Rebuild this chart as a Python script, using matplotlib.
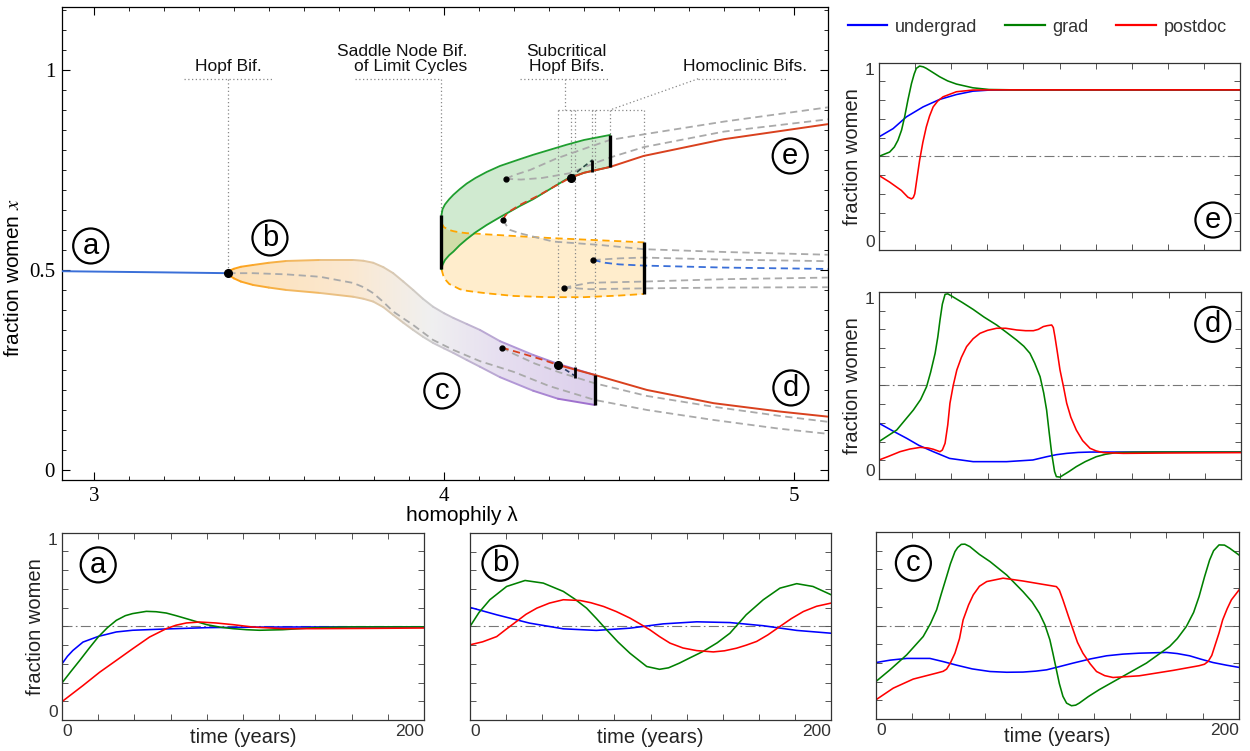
import numpy as np
import matplotlib
matplotlib.use('Agg')
import matplotlib.pyplot as plt
from matplotlib.collections import LineCollection
from matplotlib.colors import LinearSegmentedColormap
from matplotlib.patches import Polygon
from matplotlib.lines import Line2D
from matplotlib.ticker import MultipleLocator, FixedLocator

plt.rcParams['font.family'] = ['Liberation Sans', 'DejaVu Sans']
plt.rcParams['mathtext.fontset'] = 'stix'

# ---------------- bifurcation diagram: homophily lambda vs fraction women x ----------------
# stable symmetric fixed point up to the Hopf bifurcation
fp_lam = [2.90, 3.0, 3.2, 3.384]
fp_x = [0.497, 0.496, 0.494, 0.492]

# stable limit cycle born at the Hopf point (max / min of x)
cyc_lam = [3.384, 3.388, 3.40, 3.42, 3.455, 3.50, 3.55, 3.646, 3.741, 3.77, 3.798, 3.827, 3.855, 3.884, 3.912, 3.94, 3.969, 4.0, 4.027, 4.065, 4.103, 4.16, 4.255, 4.326, 4.431]
cyc_hi = [0.492, 0.4985, 0.503, 0.508, 0.5125, 0.518, 0.5225, 0.525, 0.525, 0.523, 0.518, 0.507, 0.492, 0.471, 0.45, 0.428, 0.408, 0.392, 0.38, 0.365, 0.35, 0.322, 0.2875, 0.265, 0.2375]
cyc_lo = [0.492, 0.486, 0.479, 0.471, 0.4625, 0.456, 0.45, 0.4425, 0.433, 0.428, 0.421, 0.407, 0.3875, 0.368, 0.35, 0.333, 0.3175, 0.304, 0.2925, 0.275, 0.258, 0.232, 0.198, 0.178, 0.1625]

# unstable focus inside the cycle
uf_lam = [3.384, 3.455, 3.55, 3.646, 3.741, 3.77, 3.798, 3.827, 3.855, 3.912, 3.969, 4.027, 4.103, 4.2, 4.3, 4.431, 4.58, 4.77, 4.96, 5.1]
uf_x = [0.492, 0.492, 0.489, 0.483, 0.4675, 0.457, 0.442, 0.42, 0.396, 0.3625, 0.325, 0.3, 0.272, 0.245, 0.21, 0.175, 0.15, 0.125, 0.103, 0.09]

# lower branch: saddle, unstable node, stable node, small unstable cycle
ls_lam = [4.165, 4.2, 4.26, 4.33, 4.431, 4.58, 4.77, 4.96, 5.1]
ls_x = [0.306, 0.29, 0.266, 0.244, 0.2167, 0.185, 0.158, 0.135, 0.12]
lu_lam = [4.165, 4.22, 4.28, 4.326]
lu_x = [0.306, 0.292, 0.276, 0.2625]
lst_lam = [4.326, 4.431, 4.58, 4.77, 4.96, 5.1]
lst_x = [0.2625, 0.2375, 0.2, 0.167, 0.146, 0.133]
lcyc_lam = [4.326, 4.35, 4.373]
lcyc_x = [0.2625, 0.249, 0.236]

# upper branch: stable cycle (green) and unstable cycle (orange)
sc_lam = [3.993, 3.996, 4.003, 4.015, 4.027, 4.045, 4.065, 4.09, 4.122, 4.16, 4.217, 4.255, 4.312, 4.35, 4.40, 4.474]
sc_hi = [0.6375, 0.652, 0.664, 0.677, 0.688, 0.702, 0.716, 0.73, 0.745, 0.76, 0.777, 0.788, 0.803, 0.813, 0.825, 0.8375]
sc_lo = [0.502, 0.513, 0.525, 0.537, 0.546, 0.562, 0.577, 0.594, 0.6125, 0.632, 0.66, 0.677, 0.707, 0.727, 0.743, 0.7575]
uc_lam = [3.993, 4.0, 4.015, 4.027, 4.045, 4.065, 4.09, 4.122, 4.2, 4.3, 4.4, 4.5, 4.571]
uc_hi = [0.617, 0.607, 0.6, 0.597, 0.594, 0.592, 0.591, 0.589, 0.585, 0.58, 0.576, 0.572, 0.569]
uc_lo = [0.502, 0.48, 0.465, 0.46, 0.452, 0.448, 0.445, 0.4417, 0.435, 0.432, 0.432, 0.436, 0.44]

# upper fixed points
uu_lam = [4.169, 4.175, 4.19, 4.22, 4.27, 4.32, 4.362]
uu_x = [0.625, 0.636, 0.648, 0.664, 0.686, 0.711, 0.731]
ust_lam = [4.362, 4.40, 4.474, 4.57, 4.8, 5.1]
ust_x = [0.731, 0.743, 0.7575, 0.785, 0.827, 0.865]
us_lam = [4.169, 4.18, 4.189, 4.217, 4.312, 4.446, 4.57, 4.8, 5.1]
us_x = [0.625, 0.609, 0.60, 0.5917, 0.571, 0.5625, 0.552, 0.545, 0.538]
ucyc_lam = [4.362, 4.39, 4.424]
ucyc_x = [0.731, 0.752, 0.775]

# remaining unstable branches (grey dashed) and the unstable symmetric point (blue dashed)
gA_lam = [4.177, 4.2, 4.246, 4.322, 4.417, 4.474, 4.57, 4.8, 5.1]
gA_x = [0.728, 0.737, 0.75, 0.779, 0.808, 0.825, 0.839, 0.871, 0.907]
gB_lam = [4.177, 4.22, 4.28, 4.36, 4.424, 4.474, 4.57, 4.8, 5.1]
gB_x = [0.728, 0.726, 0.73, 0.742, 0.765, 0.781, 0.807, 0.846, 0.877]
gC_lam = [4.427, 4.5, 4.57, 4.8, 5.1]
gC_x = [0.525, 0.529, 0.531, 0.526, 0.522]
sym_lam = [4.427, 4.46, 4.5, 4.57, 4.8, 5.1]
sym_x = [0.525, 0.518, 0.514, 0.511, 0.506, 0.5025]
gD_lam = [4.343, 4.417, 4.57, 4.8, 5.1]
gD_x = [0.456, 0.468, 0.471, 0.477, 0.481]
gE_lam = [4.343, 4.417, 4.57, 4.8, 5.1]
gE_x = [0.456, 0.452, 0.454, 0.456, 0.457]

hopf_pt = (3.384, 0.492)
fold_pts = [(4.165, 0.306), (4.169, 0.625), (4.177, 0.728), (4.427, 0.525), (4.343, 0.456)]
subhopf_pts = [(4.326, 0.2625), (4.362, 0.731)]
# (lambda, x_min, x_max) of the bifurcation markers
big_bars = [(3.993, 0.502, 0.6375), (4.431, 0.1625, 0.2375), (4.474, 0.7575, 0.8375), (4.571, 0.44, 0.569)]
small_bars = [(4.373, 0.23, 0.2575), (4.424, 0.746, 0.775)]

# ---------------- time series (years vs fraction women) ----------------
a_ug_t = [0, 3, 6, 11.6, 20, 30, 39, 57.6, 80, 110, 150, 200]
a_ug = [0.30, 0.34, 0.371, 0.416, 0.446, 0.47, 0.479, 0.486, 0.493, 0.496, 0.497, 0.497]
a_gr_t = [0, 5, 9.8, 15, 20, 25, 30, 35, 39, 46.6, 52, 57.6, 63, 68.7, 75, 80, 87, 94.5, 102, 109, 122, 140, 160, 200]
a_gr = [0.198, 0.26, 0.318, 0.383, 0.443, 0.492, 0.532, 0.557, 0.568, 0.58, 0.578, 0.571, 0.557, 0.541, 0.523, 0.509, 0.496, 0.4875, 0.482, 0.479, 0.482, 0.493, 0.497, 0.497]
a_pd_t = [0, 11.6, 20.8, 30, 39, 48.4, 57.6, 63, 68.7, 76, 85, 94.5, 105.5, 122, 140, 170, 200]
a_pd = [0.098, 0.184, 0.255, 0.318, 0.38, 0.443, 0.4875, 0.506, 0.518, 0.523, 0.518, 0.509, 0.496, 0.4875, 0.4875, 0.489, 0.491]

b_ug_t = [0, 14.8, 33, 51.7, 70, 88.6, 107, 125.6, 144, 162.5, 181, 200]
b_ug = [0.602, 0.5625, 0.518, 0.4875, 0.479, 0.491, 0.514, 0.525, 0.521, 0.504, 0.479, 0.464]
b_gr_t = [0, 5, 11, 20.3, 30.5, 40.6, 51.7, 58, 64.6, 70, 75.7, 82, 88.6, 97.9, 105, 110, 116, 122, 129, 137, 144, 153, 162.5, 171.7, 181, 190, 200]
b_gr = [0.5, 0.575, 0.643, 0.714, 0.746, 0.732, 0.6875, 0.647, 0.598, 0.543, 0.482, 0.417, 0.357, 0.286, 0.271, 0.279, 0.304, 0.333, 0.366, 0.413, 0.464, 0.5625, 0.643, 0.705, 0.729, 0.714, 0.67]
b_pd_t = [0, 7, 14.8, 20, 25.8, 31, 37, 44, 51.7, 61, 67, 74, 81, 88.6, 94, 99.7, 105, 110.8, 118, 125.6, 134.8, 141, 147.7, 153, 158.8, 165, 171.7, 178, 184.7, 192, 200]
b_pd = [0.402, 0.418, 0.446, 0.485, 0.527, 0.565, 0.598, 0.625, 0.643, 0.639, 0.627, 0.607, 0.58, 0.545, 0.515, 0.482, 0.446, 0.411, 0.385, 0.371, 0.364, 0.37, 0.384, 0.4, 0.42, 0.455, 0.5, 0.542, 0.58, 0.608, 0.625]

c_ug_t = [0, 8, 16.9, 29.7, 37, 44.4, 53, 62.8, 72, 81, 88, 94, 101, 108.6, 118, 127, 136, 145, 160, 166, 172.8, 179, 185.7, 193, 200]
c_ug = [0.302, 0.315, 0.324, 0.324, 0.307, 0.288, 0.268, 0.254, 0.25, 0.251, 0.256, 0.263, 0.28, 0.299, 0.321, 0.338, 0.347, 0.352, 0.356, 0.35, 0.338, 0.32, 0.302, 0.288, 0.276]
c_gr_t = [0, 7.7, 16.9, 26, 30, 33.4, 36, 38.9, 41, 43.5, 45, 47, 49, 51.7, 57, 62.8, 72, 81, 86, 90, 93, 95.8, 97.5, 99.4, 101, 103, 105, 107.7, 110, 112, 117, 123, 136, 149, 161.8, 166, 171, 175, 178, 181, 183.8, 186, 189, 192, 194.9, 200]
c_gr = [0.201, 0.263, 0.343, 0.441, 0.51, 0.584, 0.67, 0.762, 0.83, 0.895, 0.917, 0.934, 0.935, 0.922, 0.88, 0.842, 0.77, 0.681, 0.626, 0.566, 0.505, 0.4235, 0.35, 0.263, 0.19, 0.121, 0.085, 0.071, 0.074, 0.085, 0.12, 0.157, 0.228, 0.299, 0.388, 0.43, 0.495, 0.57, 0.655, 0.76, 0.85, 0.9, 0.931, 0.93, 0.913, 0.877]
c_pd_t = [0, 9.5, 20.5, 33.4, 37, 38.9, 41, 43.5, 46, 48, 51, 53.6, 57, 61, 70, 81, 92, 97, 99.4, 101, 103, 106, 108.6, 111, 114, 118, 121.5, 126, 130.6, 145, 163.7, 178, 181, 183, 185, 186.6, 189, 191, 193.5, 195.8, 200]
c_pd = [0.103, 0.165, 0.2135, 0.2456, 0.255, 0.267, 0.3, 0.352, 0.43, 0.53, 0.61, 0.664, 0.71, 0.735, 0.753, 0.738, 0.72, 0.712, 0.708, 0.69, 0.637, 0.55, 0.477, 0.41, 0.352, 0.295, 0.254, 0.232, 0.222, 0.231, 0.26, 0.285, 0.293, 0.308, 0.34, 0.388, 0.46, 0.53, 0.59, 0.637, 0.69]

d_ug_t = [0, 8, 15.3, 22, 30, 39, 52, 70.5, 85, 92.6, 98, 103.7, 110, 116.6, 200]
d_ug = [0.298, 0.255, 0.2175, 0.18, 0.146, 0.11, 0.0927, 0.0927, 0.1016, 0.119, 0.13, 0.137, 0.142, 0.144, 0.144]
d_gr_t = [0, 9.8, 19, 23, 26.3, 28.5, 31, 32.5, 33.7, 35, 36.5, 38, 40, 46, 52, 58, 65, 71, 76, 80, 83.4, 86, 89, 91, 92.6, 94, 95.4, 97, 98, 100, 101.8, 105, 109, 114, 120, 125, 131, 140, 153, 200]
d_gr = [0.2, 0.262, 0.369, 0.425, 0.494, 0.57, 0.672, 0.76, 0.85, 0.935, 0.9875, 0.99, 0.979, 0.944, 0.907, 0.866, 0.8235, 0.78, 0.743, 0.71, 0.672, 0.62, 0.547, 0.46, 0.369, 0.25, 0.137, 0.04, 0.0125, 0.01, 0.021, 0.04, 0.066, 0.093, 0.119, 0.132, 0.141, 0.143, 0.144, 0.144]
d_pd_t = [0, 5, 11.6, 17, 22.7, 27, 30, 33.7, 35, 36.5, 38, 39.2, 41, 43, 45.5, 48.4, 52, 55.8, 60, 65, 70, 76, 81, 85.3, 88, 90.8, 93, 95.4, 96.3, 97.2, 98.5, 100, 102, 103.7, 106, 109, 112.5, 116.6, 120, 124, 135, 160, 200]
d_pd = [0.1016, 0.12, 0.146, 0.16, 0.169, 0.166, 0.159, 0.146, 0.155, 0.191, 0.29, 0.405, 0.5, 0.583, 0.65, 0.708, 0.75, 0.779, 0.795, 0.806, 0.806, 0.797, 0.793, 0.793, 0.8, 0.815, 0.82, 0.8235, 0.81, 0.761, 0.68, 0.583, 0.49, 0.405, 0.33, 0.262, 0.205, 0.164, 0.15, 0.141, 0.137, 0.139, 0.141]

e_ug_t = [0, 7.8, 15.2, 24.4, 33.6, 42.9, 52, 61.4, 75, 200]
e_ug = [0.604, 0.648, 0.711, 0.764, 0.804, 0.83, 0.848, 0.854, 0.855, 0.855]
e_gr_t = [0, 5.9, 8.5, 10.5, 12.5, 14.2, 16, 18, 19.5, 20.7, 22.5, 24.5, 26.2, 30, 33.6, 38, 42.9, 52, 61, 75, 200]
e_gr = [0.5, 0.523, 0.55, 0.586, 0.64, 0.711, 0.8, 0.889, 0.94, 0.97, 0.982, 0.978, 0.97, 0.947, 0.925, 0.903, 0.886, 0.866, 0.857, 0.855, 0.855]
e_pd_t = [0, 5.9, 12.4, 16, 18, 19, 19.8, 21, 22.5, 24.3, 26.2, 28, 30, 32.5, 35.5, 42.9, 52, 65, 200]
e_pd = [0.398, 0.3625, 0.318, 0.282, 0.273, 0.28, 0.3, 0.38, 0.479, 0.575, 0.657, 0.715, 0.764, 0.795, 0.818, 0.845, 0.854, 0.855, 0.855]

series_names = ['undergrad', 'grad', 'postdoc']
series_colors = ['#0000ff', '#008000', '#ff0000']

GREY = '#aaaaaa'
GUIDE = '#888888'
DASH = (0, (4, 2.5))
DOT = (0, (1, 2))
SERIF = ['Liberation Serif', 'DejaVu Serif']

fig = plt.figure(figsize=(12.5, 7.51), dpi=100)

# ---------------- main panel ----------------
ax = fig.add_axes([0.0496, 0.3609, 0.6128, 0.6298])
ax.set_xlim(2.909, 5.097)
ax.set_ylim(-0.025, 1.1575)

# cycle band: colour fades orange -> grey -> purple along lambda
lam0, lam1 = cyc_lam[0], cyc_lam[-1]
fill_cmap = LinearSegmentedColormap.from_list('band_fill', [
    (0.0, '#fde1b8'), (0.33, '#fbe8d0'), (0.55, '#f0f0f0'), (0.75, '#e6def0'), (1.0, '#ddd0ec')])
edge_cmap = LinearSegmentedColormap.from_list('band_edge', [
    (0.0, '#ff9f10'), (0.2, '#f2b860'), (0.38, '#e2c7a2'), (0.55, '#cccccc'), (0.78, '#b39ad6'), (1.0, '#9966cc')])
verts = list(zip(cyc_lam, cyc_hi)) + list(zip(cyc_lam[::-1], cyc_lo[::-1]))
band = Polygon(verts, closed=True, fc='none', ec='none')
ax.add_patch(band)
grad = np.linspace(0, 1, 256).reshape(1, -1)
im = ax.imshow(grad, cmap=fill_cmap, aspect='auto', extent=(lam0, lam1, 0.1, 0.6),
               origin='lower', zorder=1, interpolation='bilinear')
im.set_clip_path(band)
for edge in (cyc_hi, cyc_lo):
    pts = np.column_stack([cyc_lam, edge])
    segs = np.stack([pts[:-1], pts[1:]], axis=1)
    mid = (pts[:-1, 0] + pts[1:, 0]) / 2
    lc = LineCollection(segs, colors=edge_cmap((mid - lam0) / (lam1 - lam0)), linewidths=1.4,
                        capstyle='round', joinstyle='round', zorder=3)
    ax.add_collection(lc)

# unstable (orange) and stable (green) cycles on the upper branch
ax.fill_between(uc_lam, uc_lo, uc_hi, color='#ffa500', alpha=0.2, lw=0, zorder=1)
ax.plot(uc_lam, uc_hi, color='#ffa500', lw=1.3, ls=DASH, zorder=3)
ax.plot(uc_lam, uc_lo, color='#ffa500', lw=1.3, ls=DASH, zorder=3)
ax.fill_between(sc_lam, sc_lo, sc_hi, color='#2ca02c', alpha=0.22, lw=0, zorder=2)
ax.plot(sc_lam, sc_hi, color='#1f9e2f', lw=1.3, zorder=3)
ax.plot(sc_lam, sc_lo, color='#1f9e2f', lw=1.3, zorder=3)

# fixed point branches
ax.plot(fp_lam, fp_x, color='#3a6fd8', lw=1.4, zorder=4)
for lam, xv in [(uf_lam, uf_x), (ls_lam, ls_x), (us_lam, us_x), (gA_lam, gA_x), (gB_lam, gB_x),
                (gC_lam, gC_x), (gD_lam, gD_x), (gE_lam, gE_x)]:
    ax.plot(lam, xv, color=GREY, lw=1.3, ls=DASH, zorder=4)
ax.plot(sym_lam, sym_x, color='#3a6fd8', lw=1.3, ls=DASH, zorder=4)
ax.plot(lu_lam, lu_x, color='#d9411e', lw=1.3, ls=DASH, zorder=5)
ax.plot(uu_lam, uu_x, color='#d9411e', lw=1.3, ls=DASH, zorder=5)
ax.plot(lst_lam, lst_x, color='#d9411e', lw=1.4, zorder=5)
ax.plot(ust_lam, ust_x, color='#d9411e', lw=1.4, zorder=5)
ax.plot(lcyc_lam, lcyc_x, color='#2b3d66', lw=1.2, ls=(0, (3, 2)), zorder=5)
ax.plot(ucyc_lam, ucyc_x, color='#2b4d45', lw=1.2, ls=(0, (3, 2)), zorder=5)

for lam, lo, hi in big_bars:
    ax.plot([lam, lam], [lo, hi], color='black', lw=2.4, solid_capstyle='butt', zorder=6)
for lam, lo, hi in small_bars:
    ax.plot([lam, lam], [lo, hi], color='black', lw=2.0, solid_capstyle='butt', zorder=6)
ax.plot(*hopf_pt, 'o', color='black', ms=5.5, zorder=7)
for p in fold_pts:
    ax.plot(*p, 'o', color='black', ms=3.5, zorder=7)
for p in subhopf_pts:
    ax.plot(*p, 'o', color='black', ms=5.5, zorder=7)

# guide lines to the bifurcation labels
guide = dict(color=GUIDE, lw=0.9, ls=DOT, zorder=2.5)
top_y, box_y = 0.978, 0.90
ax.plot([3.257, 3.509], [top_y, top_y], **guide)
ax.plot([hopf_pt[0], hopf_pt[0]], [top_y, hopf_pt[1]], **guide)
ax.plot([3.746, 3.993], [top_y, top_y], **guide)
ax.plot([3.993, 3.993], [top_y, 0.6375], **guide)
ax.plot([4.217, 4.469], [top_y, top_y], **guide)
ax.plot([4.346, 4.346], [top_y, box_y], **guide)
ax.plot([4.726, 4.98], [top_y, top_y], **guide)
ax.plot([4.726, 4.474], [top_y, box_y], **guide)
ax.plot([4.326, 4.571], [box_y, box_y], **guide)
for lam, end in [(4.326, 0.2625), (4.362, 0.731), (4.373, 0.2575), (4.424, 0.775),
                 (4.431, 0.2375), (4.474, 0.8375), (4.571, 0.569)]:
    ax.plot([lam, lam], [box_y, end], **guide)

ann = dict(fontsize=12.5, color='#111111', zorder=8)
ax.text(3.383, 1.0075, 'Hopf Bif.', ha='center', va='center', **ann)
ax.text(4.066, 1.0275, 'Saddle Node Bif.\nof Limit Cycles', ha='right', va='center',
        multialignment='right', linespacing=1.05, **ann)
ax.text(4.35, 1.0275, 'Subcritical\nHopf Bifs.', ha='center', va='center', linespacing=1.05, **ann)
ax.text(4.86, 1.0075, 'Homoclinic Bifs.', ha='center', va='center', **ann)


def circled(axis, x, y, s, transform):
    axis.text(x, y, s, transform=transform, ha='center', va='center', fontsize=21, zorder=9,
              bbox=dict(boxstyle='circle,pad=0.12', fc='white', ec='black', lw=1.6))


for s, x, y in [('a', 2.991, 0.56), ('b', 3.503, 0.58), ('c', 3.994, 0.1975),
                ('d', 4.991, 0.205), ('e', 4.989, 0.785)]:
    circled(ax, x, y, s, ax.transData)

ax.xaxis.set_major_locator(FixedLocator([3, 4, 5]))
ax.yaxis.set_major_locator(FixedLocator([0, 0.5, 1]))
ax.xaxis.set_minor_locator(MultipleLocator(0.1))
ax.yaxis.set_minor_locator(MultipleLocator(0.05))
ax.tick_params(which='major', direction='in', length=6, width=0.8, top=True, right=True, pad=5)
ax.tick_params(which='minor', direction='in', length=3, width=0.6, top=True, right=True)
ax.set_xticklabels(['3', '4', '5'], fontfamily=SERIF, fontsize=15)
ax.set_yticklabels(['0', '0.5', '1'], fontfamily=SERIF, fontsize=15)
for sp in ax.spines.values():
    sp.set_linewidth(0.9)
ax.set_xlabel('homophily λ', fontsize=15)
ax.xaxis.set_label_coords(0.522, -0.054)
ax.set_ylabel('fraction women $x$', fontsize=15)
ax.yaxis.set_label_coords(-0.051, 0.427)

# ---------------- time series panels ----------------
panels = {
    'a': ([0.0496, 0.0413, 0.2896, 0.2494], [(a_ug_t, a_ug), (a_gr_t, a_gr), (a_pd_t, a_pd)], (0.100, 0.828), True, True),
    'b': ([0.376, 0.0413, 0.2888, 0.249], [(b_ug_t, b_ug), (b_gr_t, b_gr), (b_pd_t, b_pd)], (0.083, 0.838), False, True),
    'c': ([0.7008, 0.0426, 0.2904, 0.249], [(c_ug_t, c_ug), (c_gr_t, c_gr), (c_pd_t, c_pd)], (0.103, 0.833), False, True),
    'd': ([0.7032, 0.3622, 0.2896, 0.249], [(d_ug_t, d_ug), (d_gr_t, d_gr), (d_pd_t, d_pd)], (0.922, 0.827), True, False),
    'e': ([0.7032, 0.6671, 0.2888, 0.2494], [(e_ug_t, e_ug), (e_gr_t, e_gr), (e_pd_t, e_pd)], (0.925, 0.160), True, False),
}

for letter, (rect, data, lpos, ylab, xlab) in panels.items():
    pax = fig.add_axes(rect)
    for (t, v), col in zip(data, series_colors):
        pax.plot(t, v, color=col, lw=1.15)
    pax.axhline(0.5, color='#777777', lw=0.8, ls=(0, (9, 3, 1.5, 3)), zorder=0)
    pax.set_xlim(0, 200)
    pax.set_ylim(0, 1)
    pax.set_xticks(np.arange(0, 201, 20))
    pax.set_yticks(np.linspace(0, 1, 11))
    pax.tick_params(direction='in', length=4, width=0.7, top=True, right=True,
                    color='#555555', labelcolor='#333333', labelsize=12.5, pad=3)
    for sp in pax.spines.values():
        sp.set_linewidth(0.9)
        sp.set_color('#333333')
    if xlab:
        pax.set_xticklabels(['0'] + [''] * 9 + ['200'])
        xlbls = pax.get_xticklabels()
        xlbls[0].set_ha('left')
        xlbls[-1].set_ha('right')
        pax.set_xlabel('time (years)', fontsize=14.5, color='#222222')
        pax.xaxis.set_label_coords(0.5, -0.045)
    else:
        pax.set_xticklabels([])
    if ylab:
        pax.set_yticklabels(['0'] + [''] * 9 + ['1'])
        ylbls = pax.get_yticklabels()
        ylbls[0].set_va('bottom')
        ylbls[-1].set_va('top')
        pax.set_ylabel('fraction women', fontsize=14.5, color='#222222')
        pax.yaxis.set_label_coords(-0.048, 0.5)
    else:
        pax.set_yticklabels([])
    circled(pax, lpos[0], lpos[1], letter, pax.transAxes)

handles = [Line2D([], [], color=c, lw=1.6) for c in series_colors]
leg = fig.legend(handles, series_names, loc='center left', bbox_to_anchor=(0.678, 0.964), ncol=3,
                 frameon=False, fontsize=13, handlelength=2.2, handletextpad=0.45, columnspacing=1.5,
                 borderpad=0, borderaxespad=0)
for txt in leg.get_texts():
    txt.set_color('#333333')

fig.savefig('out.png', dpi=100)
